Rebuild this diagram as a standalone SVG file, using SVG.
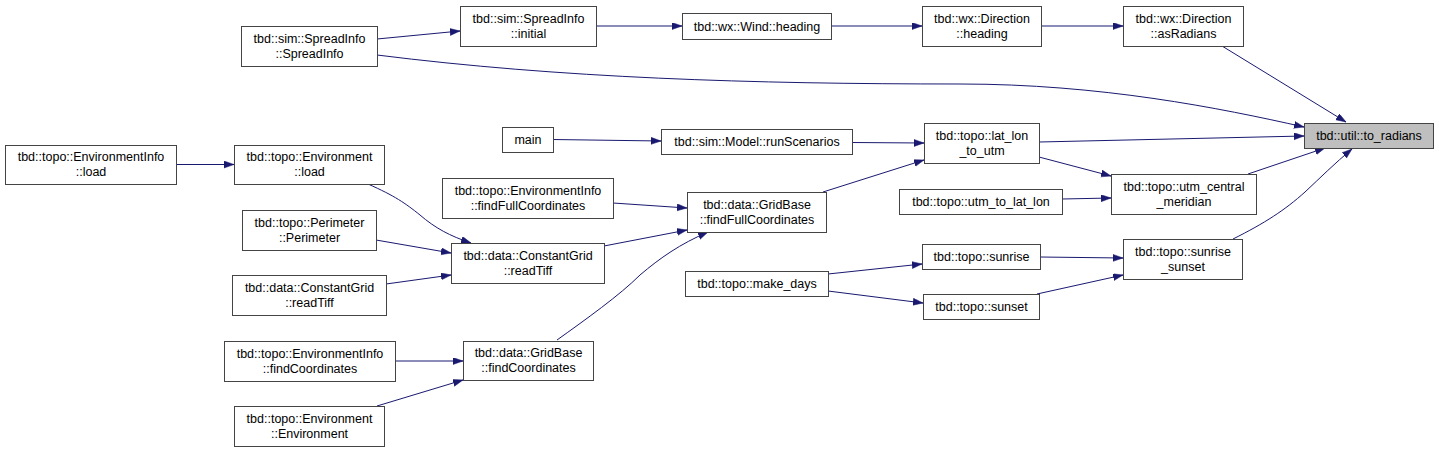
<svg xmlns="http://www.w3.org/2000/svg" width="1439" height="452" viewBox="0 0 1439 452">
<style>
.n rect{fill:#ffffff;stroke:#444444;stroke-width:1}
.n.hl rect{fill:#bfbfbf}
.n text{font-family:"Liberation Sans",Arial,sans-serif;font-size:12.5px;fill:#000000;text-anchor:middle}
.e path{fill:none;stroke:#191970;stroke-width:1;marker-end:url(#ah)}
</style>
<defs>
<marker id="ah" markerUnits="userSpaceOnUse" markerWidth="11" markerHeight="8" refX="10" refY="3.5" orient="auto">
<path d="M0,0 L10,3.5 L0,7 z" fill="#191970" stroke="#191970" stroke-width="0.5"/>
</marker>
</defs>
<rect width="1439" height="452" fill="#ffffff"/>
<g id="connectors" class="e">
<path d="M377,39 L460,31"/>
<path d="M377,55 C560,78 750,84 960,84 C1100,84 1220,108 1304,127"/>
<path d="M596,26 L682,26"/>
<path d="M831,26 L922,26"/>
<path d="M1041,26 L1123,26"/>
<path d="M1222,46 L1346,122"/>
<path d="M176,164.5 L234,164.5"/>
<path d="M368,184 C395,196 405,203 420,215 C435,228 450,236 471,243"/>
<path d="M376,240 L451,253"/>
<path d="M386,284 L451,275"/>
<path d="M395,361 L463,361"/>
<path d="M377,406 L463,380"/>
<path d="M553,139.5 L661,141"/>
<path d="M852,142.5 L924,143"/>
<path d="M613,203 L687,208"/>
<path d="M604,246 L687,230"/>
<path d="M557,340 C585,320 620,295 640,275 C660,258 680,244 708,232"/>
<path d="M823,192 L924,160"/>
<path d="M1039,142 L1304,136"/>
<path d="M1039,157 L1111,176"/>
<path d="M1062,199 L1111,198"/>
<path d="M1248,174 L1325,148"/>
<path d="M1233,239 C1265,223 1285,210 1305,192 C1320,178 1335,163 1352,149"/>
<path d="M828,274 L922,264"/>
<path d="M828,291 L923,303"/>
<path d="M1040,257 L1123,258"/>
<path d="M1037,294 L1123,275"/>
</g>
<g id="n_to_radians" class="n hl"><rect x="1304.5" y="123.5" width="129" height="25"/><text x="1369" y="140">tbd::util::to_radians</text></g>
<g id="n_asRadians" class="n"><rect x="1123.5" y="6.5" width="120" height="40"/><text x="1183.5" y="22.5">tbd::wx::Direction</text><text x="1183.5" y="37.5">::asRadians</text></g>
<g id="n_dir_heading" class="n"><rect x="922.5" y="6.5" width="119" height="40"/><text x="982" y="22.5">tbd::wx::Direction</text><text x="982" y="37.5">::heading</text></g>
<g id="n_wind_heading" class="n"><rect x="682.5" y="13.5" width="149" height="26"/><text x="757" y="30.5">tbd::wx::Wind::heading</text></g>
<g id="n_initial" class="n"><rect x="460.5" y="6.5" width="136" height="40"/><text x="528.5" y="22.5">tbd::sim::SpreadInfo</text><text x="528.5" y="37.5">::initial</text></g>
<g id="n_spreadinfo" class="n"><rect x="241.5" y="26.5" width="136" height="40"/><text x="309.5" y="42.5">tbd::sim::SpreadInfo</text><text x="309.5" y="57.5">::SpreadInfo</text></g>
<g id="n_envinfo_load" class="n"><rect x="5.5" y="145.5" width="171" height="39"/><text x="91" y="161">tbd::topo::EnvironmentInfo</text><text x="91" y="176">::load</text></g>
<g id="n_env_load" class="n"><rect x="234.5" y="145.5" width="150" height="39"/><text x="309.5" y="161">tbd::topo::Environment</text><text x="309.5" y="176">::load</text></g>
<g id="n_main" class="n"><rect x="502.5" y="127.5" width="51" height="25"/><text x="528" y="144">main</text></g>
<g id="n_runScenarios" class="n"><rect x="661.5" y="129.5" width="191" height="25"/><text x="757" y="146">tbd::sim::Model::runScenarios</text></g>
<g id="n_lat_lon_to_utm" class="n"><rect x="924.5" y="123.5" width="115" height="40"/><text x="982" y="139.5">tbd::topo::lat_lon</text><text x="982" y="154.5">_to_utm</text></g>
<g id="n_envinfo_ffc" class="n"><rect x="442.5" y="178.5" width="171" height="40"/><text x="528" y="194.5">tbd::topo::EnvironmentInfo</text><text x="528" y="209.5">::findFullCoordinates</text></g>
<g id="n_gridbase_ffc" class="n"><rect x="687.5" y="192.5" width="139" height="40"/><text x="757" y="208.5">tbd::data::GridBase</text><text x="757" y="223.5">::findFullCoordinates</text></g>
<g id="n_perimeter" class="n"><rect x="242.5" y="210.5" width="134" height="40"/><text x="309.5" y="226.5">tbd::topo::Perimeter</text><text x="309.5" y="241.5">::Perimeter</text></g>
<g id="n_readtiff_mid" class="n"><rect x="451.5" y="243.5" width="153" height="40"/><text x="528" y="259.5">tbd::data::ConstantGrid</text><text x="528" y="274.5">::readTiff</text></g>
<g id="n_readtiff_left" class="n"><rect x="232.5" y="275.5" width="154" height="40"/><text x="309.5" y="291.5">tbd::data::ConstantGrid</text><text x="309.5" y="306.5">::readTiff</text></g>
<g id="n_envinfo_fc" class="n"><rect x="224.5" y="341.5" width="171" height="40"/><text x="310" y="357.5">tbd::topo::EnvironmentInfo</text><text x="310" y="372.5">::findCoordinates</text></g>
<g id="n_env_env" class="n"><rect x="234.5" y="406.5" width="150" height="40"/><text x="309.5" y="422.5">tbd::topo::Environment</text><text x="309.5" y="437.5">::Environment</text></g>
<g id="n_gridbase_fc" class="n"><rect x="463.5" y="341.5" width="130" height="39"/><text x="528.5" y="357">tbd::data::GridBase</text><text x="528.5" y="372">::findCoordinates</text></g>
<g id="n_make_days" class="n"><rect x="685.5" y="271.5" width="143" height="25"/><text x="757" y="288">tbd::topo::make_days</text></g>
<g id="n_utm_to_lat_lon" class="n"><rect x="899.5" y="189.5" width="163" height="25"/><text x="981" y="206">tbd::topo::utm_to_lat_lon</text></g>
<g id="n_utm_central" class="n"><rect x="1111.5" y="174.5" width="145" height="40"/><text x="1184" y="190.5">tbd::topo::utm_central</text><text x="1184" y="205.5">_meridian</text></g>
<g id="n_sunrise" class="n"><rect x="922.5" y="244.5" width="118" height="25"/><text x="981.5" y="261">tbd::topo::sunrise</text></g>
<g id="n_sunset" class="n"><rect x="923.5" y="294.5" width="116" height="25"/><text x="981.5" y="311">tbd::topo::sunset</text></g>
<g id="n_sunrise_sunset" class="n"><rect x="1123.5" y="239.5" width="119" height="40"/><text x="1183" y="255.5">tbd::topo::sunrise</text><text x="1183" y="270.5">_sunset</text></g>
</svg>
